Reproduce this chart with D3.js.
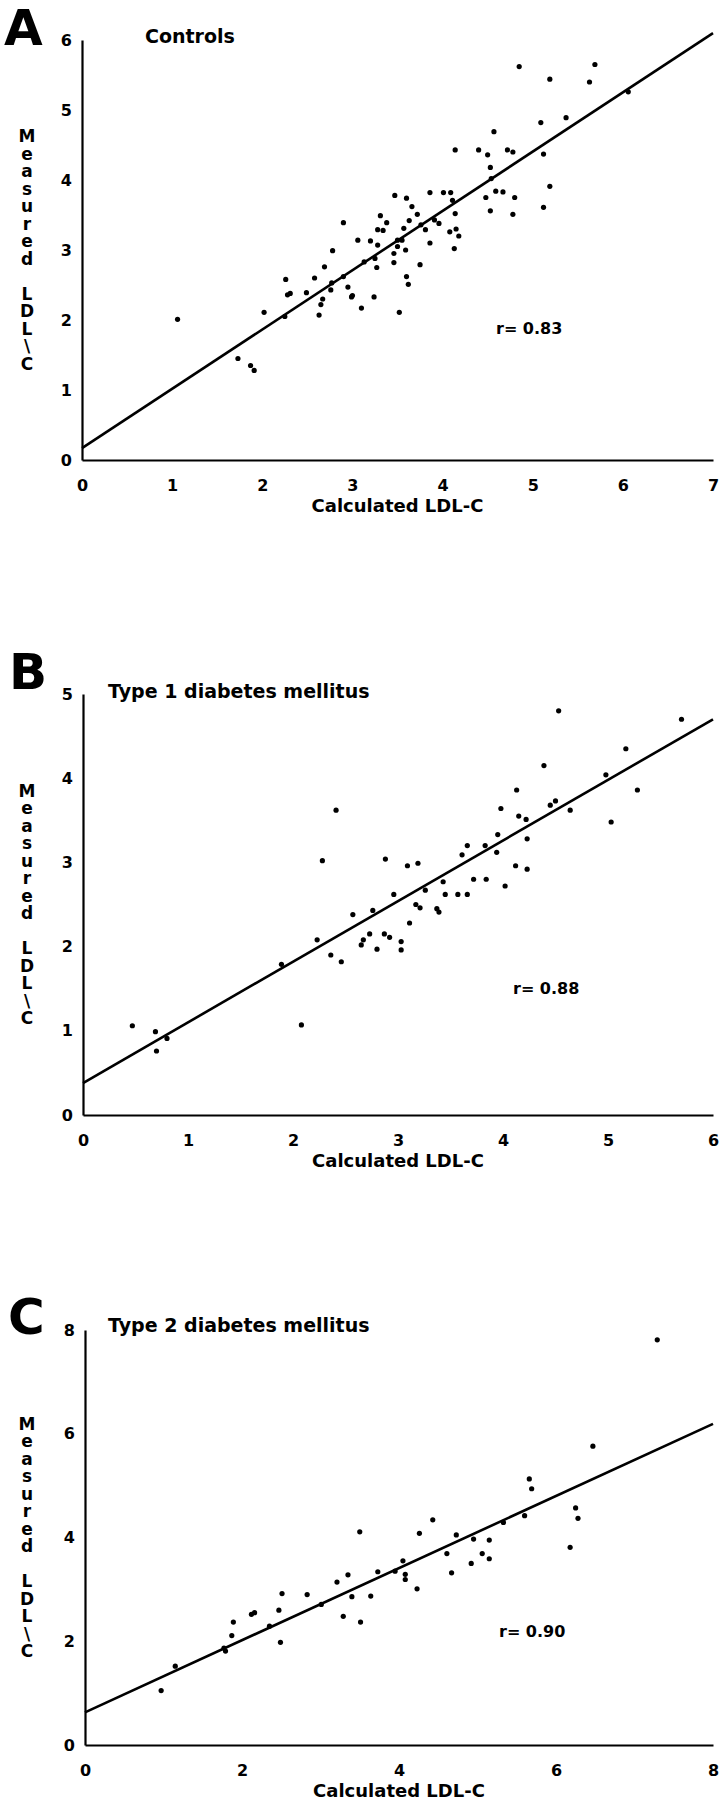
<!DOCTYPE html>
<html lang="en">
<head>
<meta charset="UTF-8">
<title>Measured vs calculated LDL-C</title>
<script src="https://d3js.org/d3.v7.min.js"></script>
<style>
  body { margin: 0; background: #fff; }
  svg text { font-family: "DejaVu Sans", sans-serif; font-weight: bold; fill: #000; }
</style>
</head>
<body>
<svg id="chart" width="723" height="1800"></svg>
<script>
// data: [calculated, measured] LDL-C
const controlsPoints = [
  [4.85,5.62],[5.69,5.65],[5.19,5.44],[5.63,5.40],[6.06,5.26],[5.37,4.89],[5.09,4.82],[4.57,4.69],
  [4.14,4.43],[4.40,4.43],[4.50,4.36],[4.72,4.43],[4.78,4.40],[5.12,4.37],[4.53,4.18],[4.54,4.02],
  [5.19,3.91],[4.59,3.84],[4.67,3.83],[4.48,3.75],[4.80,3.75],[5.12,3.61],[4.53,3.56],[4.78,3.51],
  [3.86,3.82],[4.01,3.82],[4.09,3.82],[4.11,3.71],[4.14,3.52],[4.15,3.30],[4.08,3.26],[4.18,3.20],
  [4.13,3.02],[3.47,3.78],[3.60,3.74],[3.66,3.62],[3.72,3.51],[3.63,3.42],[3.57,3.31],[3.76,3.36],
  [3.81,3.29],[3.91,3.43],[3.96,3.38],[3.86,3.10],[3.31,3.49],[3.38,3.39],[3.28,3.29],[3.34,3.28],
  [2.90,3.39],[3.06,3.14],[3.20,3.13],[3.28,3.07],[3.50,3.14],[3.55,3.14],[3.59,3.00],[3.46,2.95],
  [3.46,2.82],[3.75,2.79],[3.25,2.88],[3.13,2.83],[3.27,2.75],[3.60,2.62],[3.62,2.51],[3.52,2.11],
  [3.10,2.17],[3.24,2.33],[2.99,2.33],[2.95,2.47],[2.90,2.62],[2.78,2.99],[2.69,2.76],[2.58,2.60],
  [2.77,2.53],[2.76,2.43],[2.67,2.30],[2.63,2.07],[2.49,2.39],[2.26,2.58],[2.28,2.36],[2.25,2.05],
  [2.02,2.11],[1.06,2.01],[1.73,1.45],[1.87,1.35],[1.91,1.28],[2.65,2.22],[3.50,3.05],[2.31,2.38],
  [3.00,2.35]
];
const type1Points = [
  [4.53,4.80],[5.70,4.70],[5.17,4.35],[4.39,4.15],[4.98,4.04],[4.13,3.86],[5.28,3.86],[2.41,3.62],
  [3.98,3.64],[4.45,3.68],[4.50,3.73],[4.64,3.62],[4.15,3.55],[4.22,3.51],[5.03,3.48],[3.95,3.33],
  [4.23,3.28],[3.66,3.20],[3.83,3.20],[3.61,3.09],[3.94,3.12],[2.28,3.02],[2.88,3.04],[3.09,2.96],
  [3.19,2.99],[4.12,2.96],[4.23,2.92],[3.72,2.80],[3.84,2.80],[3.43,2.77],[4.02,2.72],[3.26,2.67],
  [2.96,2.62],[3.45,2.62],[3.57,2.62],[3.66,2.62],[3.17,2.50],[3.21,2.46],[3.37,2.45],[3.39,2.41],
  [2.57,2.38],[2.76,2.43],[3.11,2.28],[2.73,2.15],[2.87,2.15],[2.92,2.11],[2.67,2.08],[2.65,2.02],
  [3.03,2.06],[3.03,1.96],[2.80,1.97],[2.23,2.08],[2.36,1.90],[2.46,1.82],[1.89,1.79],[2.08,1.07],
  [0.47,1.06],[0.69,0.99],[0.70,0.76],[0.80,0.91]
];
const type2Points = [
  [7.29,7.81],[6.47,5.76],[5.66,5.13],[5.69,4.94],[6.25,4.57],[6.28,4.37],[6.18,3.81],[5.60,4.42],
  [5.33,4.29],[4.43,4.34],[3.50,4.11],[4.26,4.08],[4.73,4.05],[4.95,3.97],[5.15,3.95],[4.61,3.69],
  [5.06,3.69],[5.15,3.59],[4.92,3.50],[4.67,3.32],[4.05,3.55],[3.95,3.35],[4.08,3.29],[4.08,3.19],
  [4.23,3.01],[3.73,3.34],[3.35,3.28],[3.21,3.14],[3.40,2.86],[3.64,2.87],[3.29,2.48],[3.51,2.37],
  [2.83,2.90],[3.01,2.71],[2.51,2.92],[2.47,2.60],[2.16,2.55],[2.12,2.52],[2.35,2.29],[2.49,1.98],
  [1.89,2.37],[1.87,2.11],[1.77,1.87],[1.79,1.81],[1.15,1.52],[0.97,1.05]
];

const panelLetters = ["A", "B", "C"];
const panelTitles = ["Controls", "Type 1 diabetes mellitus", "Type 2 diabetes mellitus"];
const rLabels = ["r= 0.83", "r= 0.88", "r= 0.90"];
const fitIntercepts = [0.17, 0.38, 0.63];
const fitSlopes = [0.847, 0.72, 0.695];
const xTicks = [[0,1,2,3,4,5,6,7], [0,1,2,3,4,5,6], [0,2,4,6,8]];
const yTicks = [[0,1,2,3,4,5,6], [0,1,2,3,4,5], [0,2,4,6,8]];
const xTitle = "Calculated LDL-C";
const yTitle = "Measured LDL\\C";

// layout of each panel (pixels)
const layout = [
  { left: 82, right: 713, top: 40,   bottom: 460,  letterX: 4,  letterY: 45,   titleX: 145, titleY: 43,   rX: 496, rY: 334 },
  { left: 83, right: 713, top: 694,  bottom: 1115, letterX: 9,  letterY: 689,  titleX: 108, titleY: 698,  rX: 513, rY: 994 },
  { left: 85, right: 713, top: 1330, bottom: 1745, letterX: 8,  letterY: 1334, titleX: 108, titleY: 1332, rX: 499, rY: 1637 }
];
const allPoints = [controlsPoints, type1Points, type2Points];

const svg = d3.select("#chart");

allPoints.forEach((pts, i) => {
  const L = layout[i];
  const x = d3.scaleLinear().domain(d3.extent(xTicks[i])).range([L.left, L.right]);
  const y = d3.scaleLinear().domain(d3.extent(yTicks[i])).range([L.bottom, L.top]);
  const g = svg.append("g");

  // axes: no tick marks, just the line and the numbers
  const xa = g.append("g")
      .attr("transform", `translate(0,${L.bottom})`)
      .call(d3.axisBottom(x).tickValues(xTicks[i]).tickSize(0).tickPadding(20).tickFormat(d3.format("d")));
  const ya = g.append("g")
      .attr("transform", `translate(${L.left},0)`)
      .call(d3.axisLeft(y).tickValues(yTicks[i]).tickSize(0).tickPadding(10).tickFormat(d3.format("d")));
  [xa, ya].forEach(a => {
    a.select(".domain").attr("stroke", "#000").attr("stroke-width", 2.2);
    a.selectAll("text").attr("font-size", 16).attr("font-family", null);
  });

  // regression line
  const xMax = d3.max(xTicks[i]);
  g.append("line")
      .attr("x1", x(0)).attr("y1", y(fitIntercepts[i]))
      .attr("x2", x(xMax)).attr("y2", y(fitIntercepts[i] + fitSlopes[i] * xMax))
      .attr("stroke", "#000").attr("stroke-width", 2.6);

  g.selectAll("circle").data(pts).join("circle")
      .attr("cx", d => x(d[0]))
      .attr("cy", d => y(d[1]))
      .attr("r", 2.6)
      .attr("fill", "#000");

  g.append("text").attr("x", L.letterX).attr("y", L.letterY)
      .attr("font-size", 50).text(panelLetters[i]);
  g.append("text").attr("x", L.titleX).attr("y", L.titleY)
      .attr("font-size", 19).text(panelTitles[i]);
  g.append("text").attr("x", L.rX).attr("y", L.rY)
      .attr("font-size", 16).text(rLabels[i]);

  g.append("text")
      .attr("x", (L.left + L.right) / 2)
      .attr("y", L.bottom + 52)
      .attr("text-anchor", "middle")
      .attr("font-size", 18)
      .text(xTitle);

  // stacked upright letters for the y title
  const chars = yTitle.split("");
  const step = 17.5;
  const midY = (L.top + L.bottom) / 2;
  g.append("g").selectAll("text").data(chars).join("text")
      .attr("x", 27)
      .attr("y", (d, k) => midY + (k - (chars.length - 1) / 2) * step + 6)
      .attr("text-anchor", "middle")
      .attr("font-size", 17)
      .text(d => d);
});
</script>
</body>
</html>
